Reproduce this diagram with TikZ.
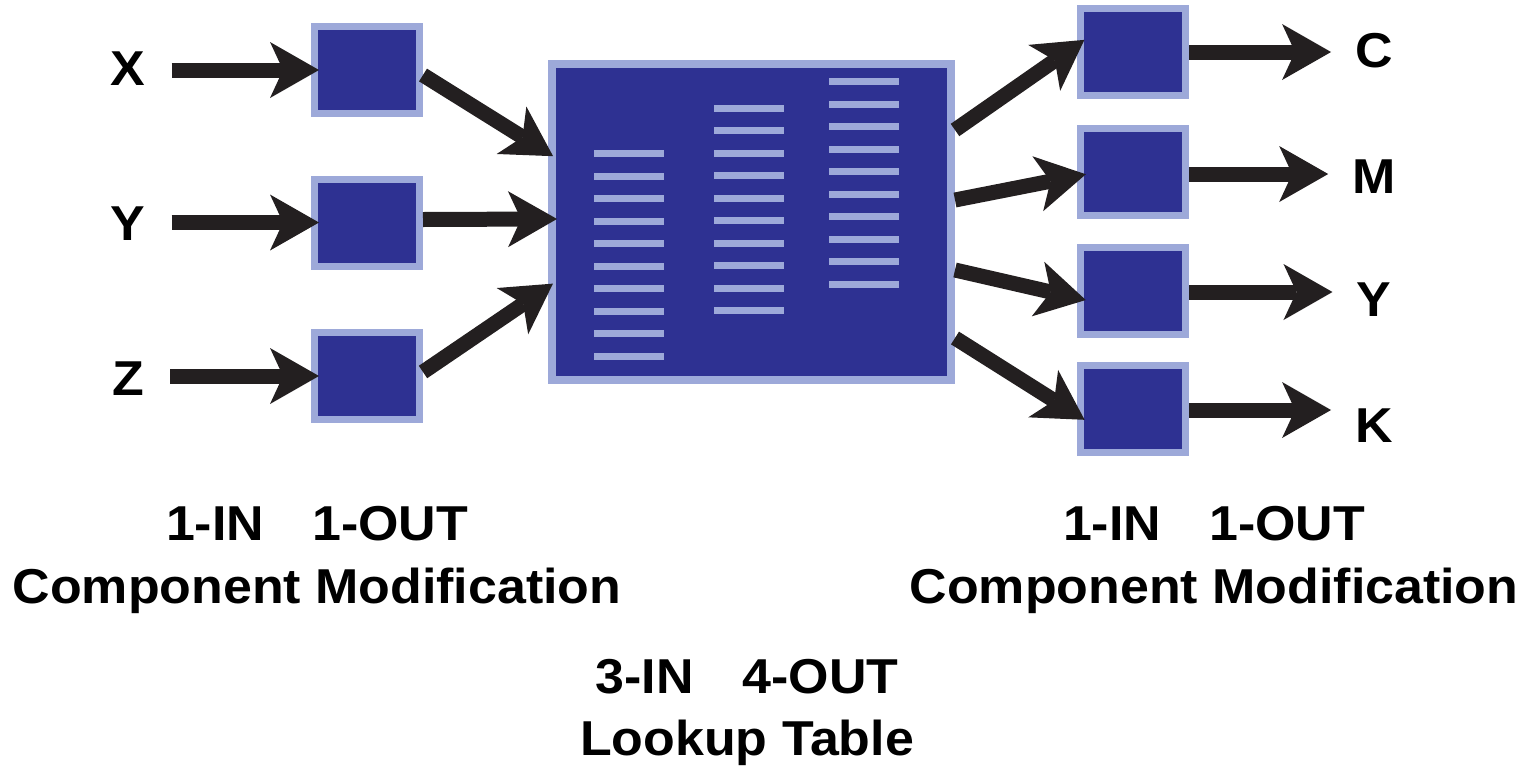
\documentclass[tikz,border=0pt]{standalone}
\usepackage{fontspec}
\setmainfont{Liberation Sans}[FakeStretch=1.06]
\usetikzlibrary{arrows.meta,positioning}
\definecolor{lutblue}{HTML}{2E3192}
\definecolor{rimblue}{HTML}{9DA9D9}
\definecolor{inkblack}{HTML}{231F20}
\begin{document}
\begin{tikzpicture}[x=1pt,y=-1pt,
	comp box/.style={draw=rimblue,fill=lutblue,line width=7pt,minimum width=105pt,minimum height=87pt,inner sep=0pt},
	lut box/.style={draw=rimblue,fill=lutblue,line width=8pt,minimum width=399pt,minimum height=316pt,inner sep=0pt},
	lut row/.style={draw=rimblue,line width=7pt},
	flow/.style={draw=inkblack,line width=15pt,-{Stealth[length=49pt,width=56pt,inset=13pt,line width=0pt]}},
	chan/.style={font=\bfseries\fontsize{49}{60}\selectfont,inner sep=0pt,anchor=base},
	caption/.style={font=\bfseries\fontsize{49}{63}\selectfont,align=center,inner sep=0pt,anchor=base}]
	\useasboundingbox (0,0) rectangle (1526,769);

	% input channels and 1-in/1-out boxes
	\node[chan] (inx) at (128,85) {X};
	\node[chan] (iny) at (128,240) {Y};
	\node[chan] (inz) at (128,395) {Z};
	\node[comp box] (xbox) at (367,70) {};
	\node[comp box] (ybox) at (367,222.5) {};
	\node[comp box] (zbox) at (367,376) {};

	% lookup table
	\node[lut box] (tbl) at (751.5,222) {};
	\foreach \col/\top in {594/153.7,714/108.3,829/81.7}
		\foreach \i in {0,...,9}
			\draw[lut row] (\col,\top+22.5*\i) -- ++(70,0);

	% output boxes and channels
	\node[comp box] (cbox) at (1133,52) {};
	\node[comp box] (mbox) at (1133,172) {};
	\node[comp box] (ylbox) at (1133,291) {};
	\node[comp box] (kbox) at (1133,408.5) {};
	\node[chan] (outc) at (1374,67) {C};
	\node[chan] (outm) at (1374,193) {M};
	\node[chan] (outy) at (1374,316) {Y};
	\node[chan] (outk) at (1374,442) {K};

	% captions
	\node[caption] (capin) at (317,603) {1-IN\hspace{0.98em}1-OUT\\Component Modification};
	\node[caption] (capout) at (1214,603) {1-IN\hspace{0.98em}1-OUT\\Component Modification};
	\node[caption] (caplut) at (747,755) {3-IN\hspace{1em}4-OUT\\[-1pt]Lookup Table};

	% connectors
	\draw[flow,shorten <=26pt,shorten >=-8pt] (xbox.west -| inx.east) -- (xbox.west);
	\draw[flow,shorten <=26pt,shorten >=-8pt] (ybox.west -| iny.east) -- (ybox.west);
	\draw[flow,shorten <=26pt,shorten >=-8pt] (zbox.west -| inz.east) -- (zbox.west);

	\draw[flow,shorten >=-6pt] ([yshift=-5pt]xbox.east) -- ([yshift=69pt]tbl.west);
	\draw[flow,shorten >=-9pt] ([yshift=3pt]ybox.east) -- ([yshift=3pt]tbl.west);
	\draw[flow,shorten >=-6pt] ([yshift=4pt]zbox.east) -- ([yshift=-65pt]tbl.west);

	\draw[flow,shorten >=-9pt] ([yshift=92pt]tbl.east) -- ([yshift=7pt]cbox.west);
	\draw[flow,shorten >=-9pt] ([yshift=22pt]tbl.east) -- ([yshift=-4pt]mbox.west);
	\draw[flow,shorten >=-9pt] ([yshift=-48pt]tbl.east) -- ([yshift=-7pt]ylbox.west);
	\draw[flow,shorten >=-9pt] ([yshift=-116pt]tbl.east) -- ([yshift=-6.5pt]kbox.west);

	\draw[flow,shorten >=24pt] (cbox.east) -- (cbox.east -| outc.west);
	\draw[flow,shorten >=24pt] ([yshift=-2pt]mbox.east) -- ([yshift=-2pt]mbox.east -| outm.west);
	\draw[flow,shorten >=24pt] ([yshift=-1pt]ylbox.east) -- ([yshift=-1pt]ylbox.east -| outy.west);
	\draw[flow,shorten >=24pt] ([yshift=-1.5pt]kbox.east) -- ([yshift=-1.5pt]kbox.east -| outk.west);
\end{tikzpicture}
\end{document}
